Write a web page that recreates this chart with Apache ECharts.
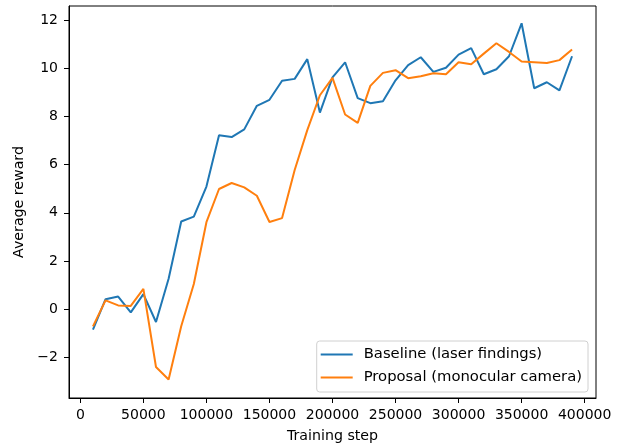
<!DOCTYPE html>
<html>
<meta charset="utf-8">
<body style="margin:0;background:#fff">
    <div id="main" style="width:626px;height:445px;"></div>
</body>
<script type="text/javascript" src="https://cdn.jsdelivr.net/npm/echarts@6/dist/echarts.min.js"></script>
<script type="text/javascript">

var steps = [10000, 20000, 30000, 40000, 50000, 60000, 70000, 80000, 90000, 100000,
    110000, 120000, 130000, 140000, 150000, 160000, 170000, 180000, 190000, 200000,
    210000, 220000, 230000, 240000, 250000, 260000, 270000, 280000, 290000, 300000,
    310000, 320000, 330000, 340000, 350000, 360000, 370000, 380000, 390000];
var baseline = [-0.86, 0.41, 0.52, -0.14, 0.62, -0.54, 1.26, 3.64, 3.84, 5.09,
    7.23, 7.15, 7.47, 8.45, 8.70, 9.49, 9.57, 10.39, 8.17, 9.63,
    10.26, 8.77, 8.56, 8.64, 9.51, 10.14, 10.47, 9.86, 10.03, 10.58,
    10.85, 9.76, 9.97, 10.51, 11.88, 9.18, 9.43, 9.09, 10.51];
var proposal = [-0.72, 0.36, 0.15, 0.13, 0.84, -2.41, -2.93, -0.72, 1.04, 3.61,
    4.99, 5.24, 5.06, 4.71, 3.62, 3.78, 5.78, 7.44, 8.89, 9.61,
    8.09, 7.74, 9.28, 9.82, 9.93, 9.60, 9.68, 9.80, 9.76, 10.26,
    10.18, 10.62, 11.05, 10.69, 10.29, 10.26, 10.23, 10.35, 10.79];
var xTicks = [0, 50000, 100000, 150000, 200000, 250000, 300000, 350000, 400000];
var yTicks = [-2, 0, 2, 4, 6, 8, 10, 12];
var names = ['Baseline (laser findings)', 'Proposal (monocular camera)'];

function pairs(xs, ys) {
    var out = [];
    for (var i = 0; i < xs.length; i++) out.push([xs[i], ys[i]]);
    return out;
}

var font = 'DejaVu Sans';
var lineIcon = 'path://M0,0 L32,0 L32,2 L0,2 Z';
var myChart = echarts.init(document.getElementById('main'));
var option = {
    animation: false,
    textStyle: { fontFamily: font },
    grid: {
        left: 69, right: 30, top: 6, bottom: 47,
        containLabel: false,
        outerBoundsMode: 'none',
        show: true, borderColor: '#000', borderWidth: 1
    },
    legend: {
        data: [{ name: names[0], icon: lineIcon }, { name: names[1], icon: lineIcon }],
        orient: 'vertical',
        right: 38,
        bottom: 53,
        align: 'left',
        backgroundColor: '#fff',
        borderColor: '#d0d0d0',
        borderWidth: 1,
        borderRadius: 3,
        padding: [6, 6, 7, 4],
        itemGap: 8,
        itemWidth: 32,
        itemHeight: 14,
        textStyle: { fontFamily: font, fontSize: 14.8, color: '#000', padding: [0, 0, 0, 6] }
    },
    xAxis: {
        type: 'value',
        min: -9000,
        max: 409000,
        name: 'Training step',
        nameLocation: 'middle',
        nameGap: 31,
        nameTextStyle: { fontFamily: font, fontSize: 14.2, color: '#000' },
        axisLine: { show: true, onZero: false, lineStyle: { color: '#000', width: 1 } },
        splitLine: { show: false },
        axisTick: { show: true, inside: false, length: 5, lineStyle: { color: '#000' }, customValues: xTicks },
        axisLabel: {
            fontFamily: font, fontSize: 14, color: '#000', margin: 10, customValues: xTicks,
            formatter: function (v) { return String(v); }
        }
    },
    yAxis: {
        type: 'value',
        min: -3.7,
        max: 12.6,
        name: 'Average reward',
        nameLocation: 'middle',
        nameGap: 37,
        nameTextStyle: { fontFamily: font, fontSize: 14.2, color: '#000' },
        axisLine: { show: true, onZero: false, lineStyle: { color: '#000', width: 1 } },
        splitLine: { show: false },
        axisTick: { show: true, inside: false, length: 5, lineStyle: { color: '#000' }, customValues: yTicks },
        axisLabel: {
            fontFamily: font, fontSize: 14, color: '#000', margin: 11, customValues: yTicks,
            formatter: function (v) { return v < 0 ? '\u2212' + Math.abs(v) : String(v); }
        }
    },
    series: [{
        name: names[0],
        type: 'line',
        data: pairs(steps, baseline),
        symbol: 'none',
        color: '#1f77b4',
        lineStyle: { width: 2, color: '#1f77b4' }
    }, {
        name: names[1],
        type: 'line',
        data: pairs(steps, proposal),
        symbol: 'none',
        color: '#ff7f0e',
        lineStyle: { width: 2, color: '#ff7f0e' }
    }]
};
myChart.setOption(option);
</script>
</html>
